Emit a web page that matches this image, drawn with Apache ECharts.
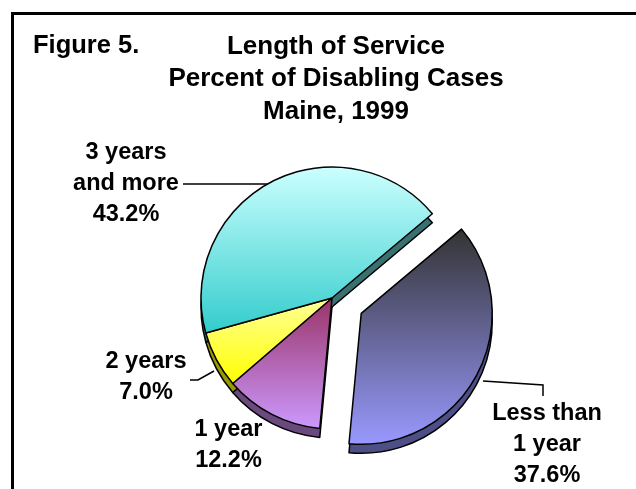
<!DOCTYPE html>
<html><head><meta charset="utf-8">
<script src="https://cdn.jsdelivr.net/npm/echarts@6/dist/echarts.min.js"></script>
<style>html,body{margin:0;padding:0;background:#fff}#c{width:636px;height:489px}</style>
</head><body><div id="c"></div>
<script>
// ---- data ----
const categories = ['Less than\n1 year', '1 year', '2 years', '3 years\nand more'];
const percents = [37.6, 12.2, 7.0, 43.2];
const explodedIndex = 0;
const figureLabel = 'Figure 5.';
const titleLines = ['Length of Service', 'Percent of Disabling Cases', 'Maine, 1999'];

// ---- styling / layout ----
const FONT = '"Liberation Sans", Arial, sans-serif';
const topColors = [['#333333', '#9999ff'], ['#993366', '#cc99ff'], ['#ffff99', '#ffff00'], ['#ccffff', '#33cccc']];
const sideColors = ['#4f4f88', '#6a4a7e', '#9a9a00', '#3a7070'];
const CX = 332, CY = 298, R = 131, DEPTH = 9, EXPLODE = 33, START = 40;
const labelPos = [
  {x: 547, y: 445, line: [[483, 381], [543, 385], [543, 396]]},
  {x: 228.5, y: 445},
  {x: 146, y: 377, line: [[214, 371], [198, 380], [190, 380]]},
  {x: 126, y: 184, line: [[268, 184], [226, 184], [183, 184]]}
];

// explode offset along the bisector of the exploded slice
const total = percents.reduce((a, b) => a + b, 0);
let before = 0;
for (let i = 0; i < explodedIndex; i++) before += percents[i];
const midAng = (START - (before + percents[explodedIndex] / 2) / total * 360) * Math.PI / 180;
const EX = EXPLODE * Math.cos(midAng), EY = -EXPLODE * Math.sin(midAng);

const grad = (c) => ({type: 'linear', x: 0, y: 0, x2: 0, y2: 1,
  colorStops: [{offset: 0, color: c[0]}, {offset: 1, color: c[1]}]});

const hidden = {itemStyle: {color: 'rgba(0,0,0,0)', borderWidth: 0},
  label: {show: false}, labelLine: {show: false}};

function makeData(isTop, exploded) {
  return percents.map((v, i) => {
    const visible = exploded ? i === explodedIndex : i !== explodedIndex;
    const d = {value: v, name: categories[i]};
    if (!visible) return Object.assign(d, hidden);
    d.itemStyle = {color: isTop ? grad(topColors[i]) : sideColors[i]};
    if (isTop) {
      d.label = {show: true};
      d.labelLine = {show: !!labelPos[i].line};
    } else {
      d.label = {show: false};
      d.labelLine = {show: false};
    }
    return d;
  });
}

function pieSeries(isTop, exploded) {
  const cx = CX + (exploded ? EX : 0);
  const cy = CY + (exploded ? EY : 0) + (isTop ? 0 : DEPTH);
  return {
    type: 'pie', silent: true, z: isTop ? 2 : 1,
    center: [cx, cy], radius: R, startAngle: START, clockwise: true,
    avoidLabelOverlap: false, animation: false,
    itemStyle: {borderColor: '#000', borderWidth: 1.5},
    emphasis: {disabled: true},
    label: {
      show: false, position: 'outside', color: '#000', fontSize: 23.5, fontWeight: 'bold',
      fontFamily: FONT, lineHeight: 31, align: 'center',
      formatter: (p) => p.name + '\n' + p.value.toFixed(1) + '%'
    },
    labelLine: {show: false, lineStyle: {color: '#000', width: 1.5}},
    labelLayout: (p) => {
      const L = labelPos[p.dataIndex];
      const o = {x: L.x, y: L.y, align: 'center', verticalAlign: 'middle'};
      if (L.line) o.labelLinePoints = L.line;
      return o;
    },
    data: makeData(isTop, exploded)
  };
}

const chart = echarts.init(document.getElementById('c'), null, {renderer: 'canvas'});
chart.setOption({
  animation: false,
  backgroundColor: '#fff',
  graphic: [
    {type: 'rect', z: 100, shape: {x: 12.5, y: 13.5, width: 700, height: 600},
      style: {fill: 'none', stroke: '#000', lineWidth: 3}},
    {type: 'text', x: 33, y: 46, style: {text: figureLabel, fontSize: 25.5, fontWeight: 'bold',
      fontFamily: FONT, fill: '#000', align: 'left', verticalAlign: 'middle',
      textAlign: 'left', textVerticalAlign: 'middle'}},
    {type: 'text', x: 336, y: 79, style: {text: titleLines.join('\n'), fontSize: 26, fontWeight: 'bold',
      fontFamily: FONT, fill: '#000', lineHeight: 32.5, align: 'center', verticalAlign: 'middle',
      textAlign: 'center', textVerticalAlign: 'middle'}}
  ],
  series: [
    pieSeries(false, false),
    pieSeries(false, true),
    pieSeries(true, false),
    pieSeries(true, true)
  ]
});
</script>
</body></html>
